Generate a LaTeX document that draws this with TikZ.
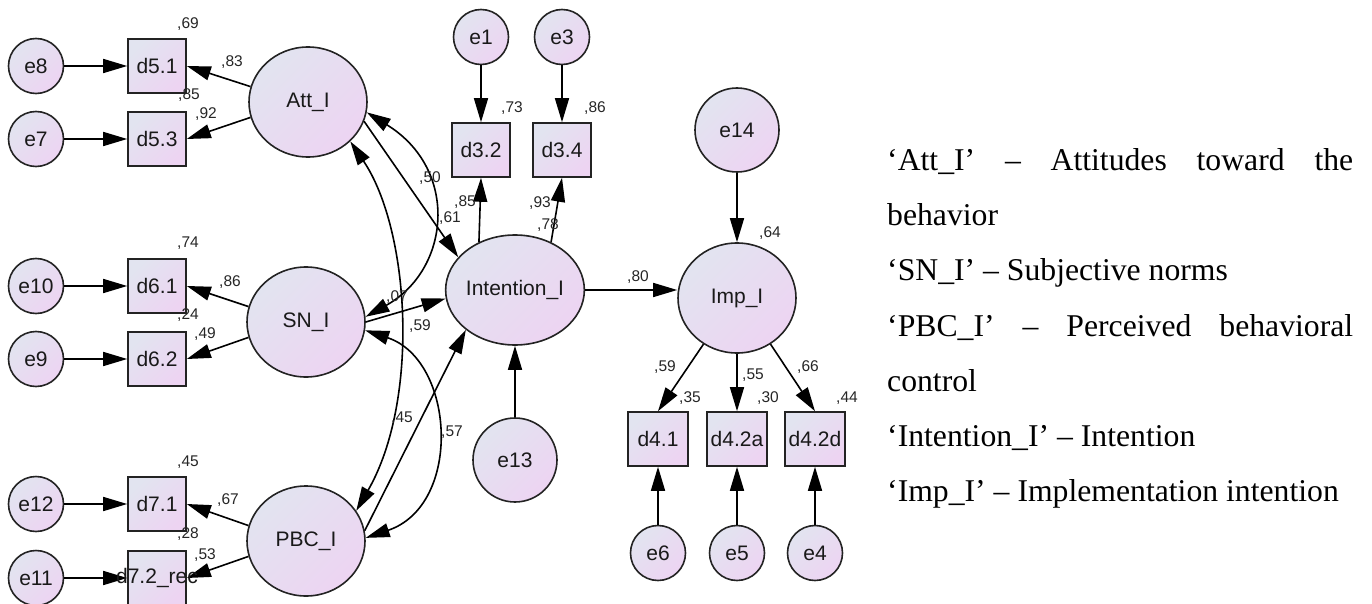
\documentclass[tikz,border=0pt]{standalone}
\usepackage{fontspec}
\setmainfont{Liberation Serif}
\newfontfamily\arialf{Liberation Sans}
\usetikzlibrary{shapes.geometric,arrows.meta}
\definecolor{shA}{RGB}{226,228,240}
\definecolor{shB}{RGB}{237,212,242}
\definecolor{edgec}{RGB}{35,35,35}
\begin{document}
\begin{tikzpicture}[x=1pt,y=-1pt,
 grad/.style={draw=edgec, line width=1.6pt, top color=shA, bottom color=shB, shading angle=45},
 lat/.style={grad, ellipse, minimum width=118pt, minimum height=110pt, inner sep=0pt, text=black!90, font=\arialf\fontsize{21}{21}\selectfont},
 err/.style={grad, circle, minimum size=55pt, inner sep=0pt, text=black!90, font=\arialf\fontsize{21}{21}\selectfont},
 bigerr/.style={err, minimum size=84pt},
 ind/.style={grad, rectangle, minimum width=58pt, minimum height=54pt, inner sep=0pt, text=black!90, font=\arialf\fontsize{21}{21}\selectfont},
 indw/.style={ind, minimum width=60pt},
 num/.style={inner sep=0pt, text=black!85, font=\arialf\fontsize{15.5}{15.5}\selectfont},
 pth/.style={draw=black, line width=1.6pt, -{Triangle[length=24pt,width=14pt]}},
 cov/.style={draw=black, line width=1.6pt, {Triangle[length=24pt,width=14pt]}-{Triangle[length=24pt,width=14pt]}},
 leg/.style={anchor=base west, inner sep=0pt, font=\fontsize{31.7}{31.7}\selectfont}
]
\useasboundingbox (0,0) rectangle (1372,604);

% left block
\node[err] (e8) at (36,66) {e8};
\node[err] (e7) at (36,139) {e7};
\node[err] (e10) at (36,286) {e10};
\node[err] (e9) at (36,359) {e9};
\node[err] (e12) at (36,504) {e12};
\node[err] (e11) at (36,578) {e11};
\node[ind] (d51) at (157,66) {d5.1};
\node[ind] (d53) at (157,139) {d5.3};
\node[ind] (d61) at (157,286) {d6.1};
\node[ind] (d62) at (157,359) {d6.2};
\node[ind] (d71) at (157,504) {d7.1};
\node[ind] (d72) at (157,578) {};

% latents
\node[lat] (att) at (308,102) {Att\_I};
\node[lat] (sn) at (306,322) {SN\_I};
\node[lat] (pbc) at (306,541) {PBC\_I};
\node[lat] (int) at (515,290) {Intention\_I};
\node[lat] (imp) at (737,298) {Imp\_I};

% center / right
\node[err] (e1) at (481,37) {e1};
\node[err] (e3) at (562,37) {e3};
\node[ind] (d32) at (481,150) {d3.2};
\node[ind] (d34) at (562,150) {d3.4};
\node[bigerr] (e14) at (737,130) {e14};
\node[bigerr] (e13) at (515,460) {e13};
\node[indw] (d41) at (658,439) {d4.1};
\node[indw] (d42a) at (737,439) {d4.2a};
\node[indw] (d42d) at (815,439) {d4.2d};
\node[err] (e6) at (658,553) {e6};
\node[err] (e5) at (737,553) {e5};
\node[err] (e4) at (815,553) {e4};

% error arrows
\draw[pth] (e8) -- (d51);
\draw[pth] (e7) -- (d53);
\draw[pth] (e10) -- (d61);
\draw[pth] (e9) -- (d62);
\draw[pth] (e12) -- (d71);
\draw[pth] (e11) -- (d72);
\draw[pth] (e1) -- (d32);
\draw[pth] (e3) -- (d34);
\draw[pth] (e14) -- (imp);
\draw[pth] (e13) -- (int);
\draw[pth] (e6) -- (d41);
\draw[pth] (e5) -- (d42a);
\draw[pth] (e4) -- (d42d);

% loadings
\draw[pth] (att.165) -- (d51.east);
\draw[pth] (att.195) -- (d53.east);
\draw[pth] (sn.165) -- (d61.east);
\draw[pth] (sn.195) -- (d62.east);
\draw[pth] (pbc.165) -- (d71.east);
\draw[pth] (pbc.195) -- (d72.east);
\draw[pth] (int.127) -- (d32.south);
\draw[pth] (int.53) -- (d34.south);
\draw[pth] (imp.234) -- (d41.north);
\draw[pth] (imp.south) -- (d42a.north);
\draw[pth] (imp.306) -- (d42d.north);

% text of d7.2_rec drawn over its incoming arrow, as in the reference
\node[text=black!90, font=\arialf\fontsize{21}{21}\selectfont, inner sep=0pt] (d72t) at (d72.center) {d7.2\_rec};

% structural paths
\draw[pth] (att.341) -- (int.150);
\draw[pth] (sn.0) -- (int.187);
\draw[pth] (pbc.10) -- (int.219);
\draw[pth] (int.east) -- (int.east -| imp.west);

% covariances
\draw[cov] (att.-10) .. controls (460,170) and (450,270) .. (sn.5);
\draw[cov] (att.-43) .. controls (410,230) and (420,400) .. (pbc.31);
\draw[cov] (sn.-8) .. controls (455,360) and (463,505) .. (pbc.3);

% numbers
\node[num] (n1) at (188,24) {,69};
\node[num] (n2) at (232,62) {,83};
\node[num] (n3) at (189,95) {,85};
\node[num] (n4) at (206,114) {,92};
\node[num] (n5) at (188,243) {,74};
\node[num] (n6) at (230,282) {,86};
\node[num] (n7) at (188,315) {,24};
\node[num] (n8) at (205,334) {,49};
\node[num] (n9) at (397,297) {,07};
\node[num] (n10) at (420,326) {,59};
\node[num] (n11) at (450,218) {,61};
\node[num] (n12) at (430,178) {,50};
\node[num] (n13) at (188,462) {,45};
\node[num] (n14) at (228,500) {,67};
\node[num] (n15) at (188,534) {,28};
\node[num] (n16) at (205,555) {,53};
\node[num] (n17) at (402,418) {,45};
\node[num] (n18) at (452,432) {,57};
\node[num] (n19) at (512,108) {,73};
\node[num] (n20) at (595,108) {,86};
\node[num] (n21) at (465,202) {,85};
\node[num] (n22) at (540,203) {,93};
\node[num] (n23) at (548,225) {,78};
\node[num] (n24) at (770,233) {,64};
\node[num] (n25) at (638,277) {,80};
\node[num] (n26) at (665,367) {,59};
\node[num] (n27) at (690,398) {,35};
\node[num] (n28) at (753,375) {,55};
\node[num] (n29) at (768,398) {,30};
\node[num] (n30) at (808,367) {,66};
\node[num] (n31) at (847,398) {,44};

% legend
\node[leg] (l1) at (887,170.5) {\makebox[466pt][s]{‘Att\_I’ – Attitudes toward the}};
\node[leg] (l2) at (887,225.7) {behavior};
\node[leg] (l3) at (887,280.9) {‘SN\_I’ – Subjective norms};
\node[leg] (l4) at (887,336.1) {\makebox[466pt][s]{‘PBC\_I’ – Perceived behavioral}};
\node[leg] (l5) at (887,391.3) {control};
\node[leg] (l6) at (887,446.5) {‘Intention\_I’ – Intention};
\node[leg] (l7) at (887,501.7) {‘Imp\_I’ – Implementation intention};
\end{tikzpicture}
\end{document}
